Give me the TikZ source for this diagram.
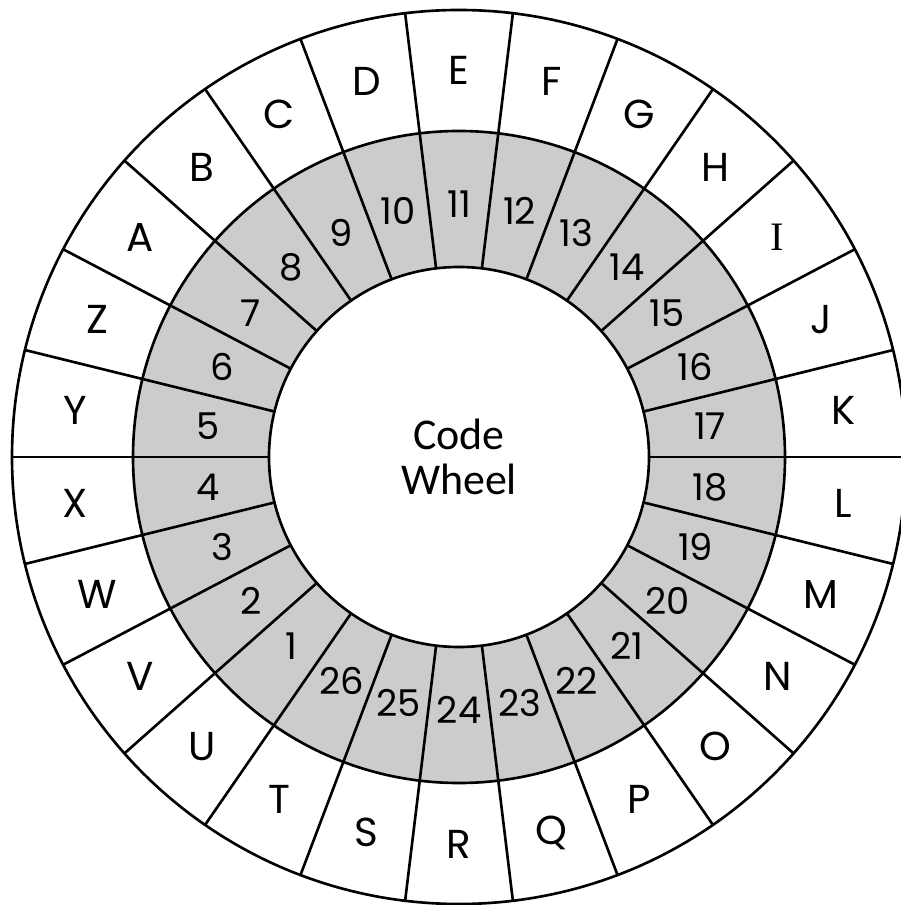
\documentclass[tikz,border=0pt]{standalone}
\usepackage{fontspec}
\setmainfont{Poppins}
\newfontfamily\wheelfont{Carlito}
\newfontfamily\serifletter{Liberation Serif}
\usetikzlibrary{math}

\tikzset{
  ring/.style={line width=1.5pt},
  ringlabel/.style={font=\fontsize{23}{27}\selectfont, inner sep=0pt},
  numlabel/.style={font=\fontsize{21}{25}\selectfont, inner sep=0pt}
}

\begin{document}
\begin{tikzpicture}[x=0.02cm, y=0.02cm]
\useasboundingbox (-459,-448) rectangle (442,457);
\clip (-459,-448) rectangle (442,457);
\draw [ring] (0,0) circle (447);
\filldraw [ring, fill=black!20] (0,0) circle (326);
\filldraw [ring, fill=white] (0,0) circle (190);
\foreach \k in {0,...,25} \draw [ring] ({\k*360/26}:190) -- ({\k*360/26}:447);
% letters on the outer ring, numbers on the grey ring
\foreach \l [count=\k] in {A,B,C,D,E,F,G,H,{\serifletter I},J,K,L,M,N,O,P,Q,R,S,T,U,V,W,X,Y,Z}
  \node [ringlabel] (let\k) at ({90-(\k-5)*360/26}:387) {\l};
\foreach \n in {1,...,26}
  \node [numlabel] (num\n) at ({90-(\n-11)*360/26}:253) {\n};
\node [align=center, font=\wheelfont\fontsize{25}{26}\selectfont] (centre) at (0,0) {Code\\Wheel};
\end{tikzpicture}
\end{document}
